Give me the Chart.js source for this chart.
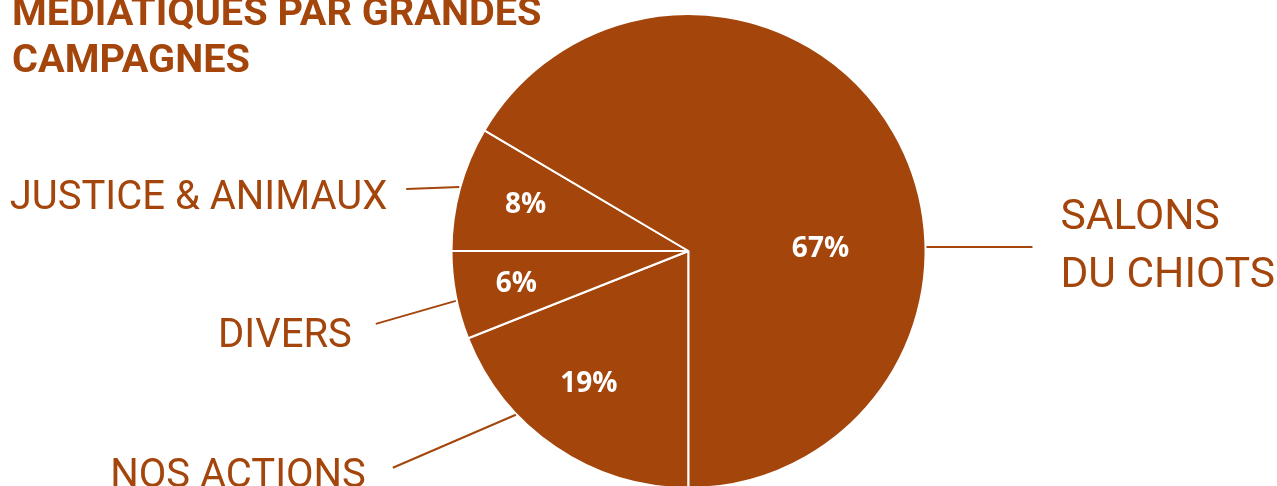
<!DOCTYPE html>
<html>
<head>
<meta charset="utf-8">
<script src="https://cdn.jsdelivr.net/npm/chart.js@4.4.0/dist/chart.umd.min.js"></script>
<style>
  html, body { margin: 0; padding: 0; background: #fff; overflow: hidden; }
  #wrap { position: relative; width: 1277px; height: 500px; }
</style>
</head>
<body>
<div id="wrap"><canvas id="pieChart" width="1277" height="500"></canvas></div>
<script>
// Data (clockwise from 6 o'clock)
const categories = ['NOS ACTIONS', 'DIVERS', 'JUSTICE & ANIMAUX', 'SALONS\nDU CHIOTS'];
const values = [19, 6, 8.49, 66.51];
const titleLines = ['RETOMBÉES', 'MÉDIATIQUES PAR GRANDES', 'CAMPAGNES'];

const BROWN = '#a4460c';

// where the value label sits in its slice: fraction of the slice sweep, fraction of radius
const valuePos = [[0.54, 0.70], [0.49, 0.74], [0.52, 0.715], [0.62, 0.557]];
// leader line: fraction of slice sweep, then vector out from the rim
const leader = [
    { frac: 0.68, dx: -123, dy: 53, align: 'right', tx: -27, ty: 19, size: 40 },
    { frac: 0.44, dx: -80, dy: 23, align: 'right', tx: -24, ty: 23, size: 40 },
    { frac: 0.51, dx: -53, dy: 2, align: 'right', tx: -19, ty: 20, size: 40 },
    { frac: 0.62, dx: 106, dy: 0, align: 'left', tx: 28, ty: -18, size: 42.5 }
];

const labelsPlugin = {
    id: 'pieLabels',
    afterDraw(chart) {
        const ctx = chart.ctx;
        const arcs = chart.getDatasetMeta(0).data;
        ctx.save();

        arcs.forEach((arc, i) => {
            const { x, y, startAngle, endAngle, outerRadius } = arc.getProps(['x', 'y', 'startAngle', 'endAngle', 'outerRadius'], true);
            const sweep = endAngle - startAngle;

            // value label
            const va = startAngle + sweep * valuePos[i][0];
            const vr = outerRadius * valuePos[i][1];
            ctx.fillStyle = '#ffffff';
            ctx.font = 'bold 28px "Open Sans", sans-serif';
            ctx.textAlign = 'center';
            ctx.textBaseline = 'middle';
            ctx.fillText(Math.round(values[i]) + '%', x + Math.cos(va) * vr, y + Math.sin(va) * vr);

            // leader line
            const l = leader[i];
            const la = startAngle + sweep * l.frac;
            const sx = x + Math.cos(la) * (outerRadius + 1);
            const sy = y + Math.sin(la) * (outerRadius + 1);
            const ex = sx + l.dx;
            const ey = sy + l.dy;
            ctx.strokeStyle = BROWN;
            ctx.lineWidth = 2;
            ctx.beginPath();
            ctx.moveTo(sx, sy);
            ctx.lineTo(ex, ey);
            ctx.stroke();

            // category text
            ctx.fillStyle = BROWN;
            ctx.font = l.size + 'px Roboto, sans-serif';
            ctx.textAlign = l.align;
            ctx.textBaseline = 'alphabetic';
            categories[i].split('\n').forEach((line, k) => {
                ctx.fillText(line, ex + l.tx, ey + l.ty + k * 58);
            });
        });

        // title (first line sits above the visible area)
        ctx.fillStyle = BROWN;
        ctx.font = 'bold 39.7px Roboto, sans-serif';
        ctx.textAlign = 'left';
        ctx.textBaseline = 'alphabetic';
        titleLines.forEach((line, k) => {
            ctx.fillText(line, 12, -22 + k * 47);
        });
        ctx.restore();
    }
};

new Chart(document.getElementById('pieChart'), {
    type: 'pie',
    data: {
        labels: categories,
        datasets: [{
            data: values,
            backgroundColor: BROWN,
            borderColor: '#ffffff',
            borderWidth: 2
        }]
    },
    options: {
        responsive: false,
        animation: false,
        rotation: 180,
        layout: {
            padding: { left: 450, right: 350, top: 13, bottom: 11 }
        },
        plugins: {
            legend: { display: false },
            tooltip: { enabled: false }
        }
    },
    plugins: [labelsPlugin]
});
</script>
</body>
</html>
